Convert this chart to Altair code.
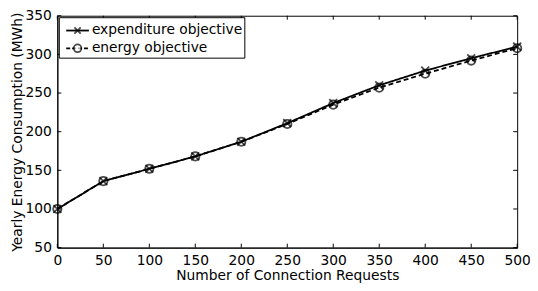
import altair as alt
import pandas as pd

requests = [0, 50, 100, 150, 200, 250, 300, 350, 400, 450, 500]
expenditure = [100, 136, 152, 168, 187, 211, 237, 260, 279, 295, 310]
energy = [100, 136, 152, 168, 187, 210, 235, 257, 275, 292, 308]
series_names = ["expenditure objective", "energy objective"]
x_ticks = [0, 50, 100, 150, 200, 250, 300, 350, 400, 450, 500]
y_ticks = [50, 100, 150, 200, 250, 300, 350]

rows = []
for i, r in enumerate(requests):
    rows.append({"requests": r, "value": expenditure[i], "series": series_names[0]})
    rows.append({"requests": r, "value": energy[i], "series": series_names[1]})
df = pd.DataFrame(rows)

W, H = 466, 235
FONT = "DejaVu Sans"
XT = "Number of Connection Requests"
YT = "Yearly Energy Consumption (MWh)"

xs = alt.Scale(domain=[0, 500], nice=False)
ys = alt.Scale(domain=[50, 350], nice=False)

X_PATH = "M-1,-1L1,1M1,-1L-1,1"

base = alt.Chart(df)

xax = alt.Axis(values=x_ticks, title=XT, labelOverlap=False, labelFlush=False)
yax = alt.Axis(values=y_ticks, title=YT, labelOverlap=False, labelFlush=False)

lines = base.mark_line(color="black", strokeWidth=1.8).encode(
    x=alt.X("requests:Q", scale=xs, axis=xax),
    y=alt.Y("value:Q", scale=ys, axis=yax),
    strokeDash=alt.StrokeDash("series:N", scale=alt.Scale(domain=series_names, range=[[1, 0], [5, 3]]), legend=None),
)

pts_x = base.transform_filter(alt.datum.series == series_names[0]).mark_point(
    color="black", filled=False, size=64, strokeWidth=1.8, shape=X_PATH).encode(
    x=alt.X("requests:Q", scale=xs, axis=xax), y=alt.Y("value:Q", scale=ys, axis=yax))
pts_o = base.transform_filter(alt.datum.series == series_names[1]).mark_point(
    color="black", filled=False, size=72, strokeWidth=1.8, shape="circle").encode(
    x=alt.X("requests:Q", scale=xs, axis=xax), y=alt.Y("value:Q", scale=ys, axis=yax))

# ticks pointing inward on all four sides (MATLAB-style box)
xt = pd.DataFrame({"t": x_ticks})
yt = pd.DataFrame({"t": y_ticks})
bottom_ticks = alt.Chart(xt).mark_rule(color="black").encode(
    x=alt.X("t:Q", scale=xs, axis=xax), y=alt.value(H), y2=alt.value(H - 4))
top_ticks = alt.Chart(xt).mark_rule(color="black").encode(
    x=alt.X("t:Q", scale=xs, axis=xax), y=alt.value(0), y2=alt.value(4))
left_ticks = alt.Chart(yt).mark_rule(color="black").encode(
    y=alt.Y("t:Q", scale=ys, axis=yax), x=alt.value(0), x2=alt.value(4))
right_ticks = alt.Chart(yt).mark_rule(color="black").encode(
    y=alt.Y("t:Q", scale=ys, axis=yax), x=alt.value(W), x2=alt.value(W - 4))

# legend box (top-left, MATLAB style)
leg = pd.DataFrame({"label": series_names, "row": [0, 1]})
leg_base = alt.Chart(leg).transform_calculate(py="15 + datum.row * 18")
leg_box = alt.Chart(pd.DataFrame({"a": [0]})).mark_rect(
    fill="white", stroke="black", strokeWidth=1).encode(
    x=alt.value(2), x2=alt.value(190), y=alt.value(2), y2=alt.value(43))
leg_line_solid = leg_base.transform_filter(alt.datum.row == 0).mark_rule(color="black", strokeWidth=1.8).encode(
    x=alt.value(9), x2=alt.value(32), y=alt.Y("py:Q", scale=None, axis=None))
leg_line_dash = leg_base.transform_filter(alt.datum.row == 1).mark_rule(
    color="black", strokeWidth=1.8, strokeDash=[4, 2]).encode(
    x=alt.value(9), x2=alt.value(32), y=alt.Y("py:Q", scale=None, axis=None))
leg_x = leg_base.transform_filter(alt.datum.row == 0).mark_point(
    color="black", filled=False, size=40, strokeWidth=1.8, shape=X_PATH).encode(
    x=alt.value(20.5), y=alt.Y("py:Q", scale=None, axis=None))
leg_o = leg_base.transform_filter(alt.datum.row == 1).mark_point(
    color="black", filled=False, fill="white", size=60, strokeWidth=1.8, shape="circle").encode(
    x=alt.value(20.5), y=alt.Y("py:Q", scale=None, axis=None))
leg_text = leg_base.mark_text(align="left", baseline="middle", font=FONT, fontSize=14, color="black").encode(
    x=alt.value(35), y=alt.Y("py:Q", scale=None, axis=None), text="label:N")

chart = alt.layer(
    lines, pts_x, pts_o, bottom_ticks, top_ticks, left_ticks, right_ticks,
    leg_box, leg_line_solid, leg_line_dash, leg_x, leg_o, leg_text,
).resolve_scale(y="shared").properties(
    width=W, height=H,
    autosize=alt.AutoSizeParams(type="none"),
    padding={"left": 50, "top": 6, "right": 13, "bottom": 34},
).configure_view(stroke="black", strokeWidth=1).configure_axis(
    domainColor="black", ticks=False, grid=False, labelOverlap=False, labelFlush=False,
    labelFont=FONT, labelFontSize=14, labelColor="black", labelPadding=6,
    titleFont=FONT, titleFontSize=14, titleFontWeight="normal", titleColor="black", titlePadding=1,
)

chart.save("out.html", embed_options={"renderer": "svg", "actions": False})
